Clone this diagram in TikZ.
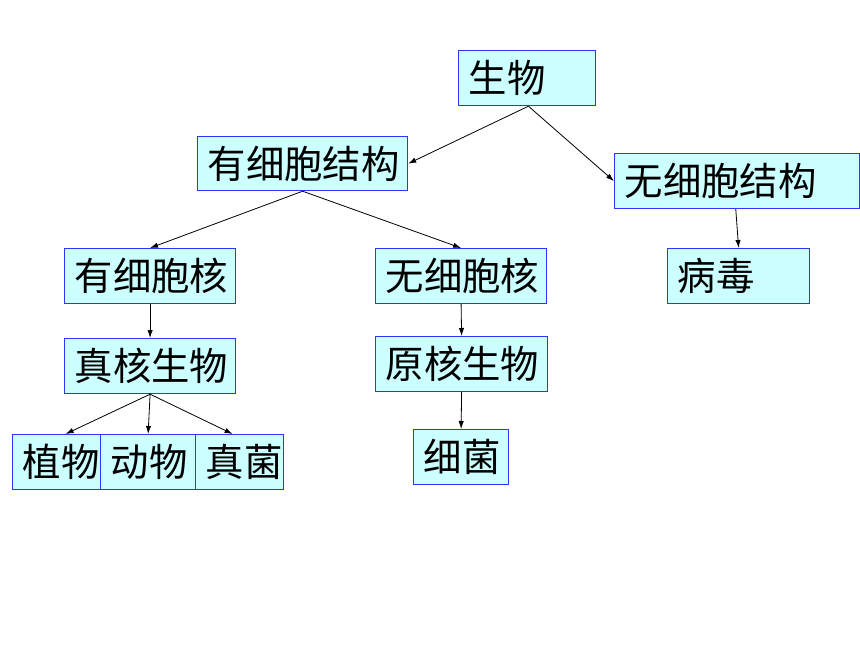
\documentclass[tikz,border=0pt]{standalone}
\usepackage{fontspec}
\setmainfont{Noto Sans CJK SC}
\usetikzlibrary{arrows.meta}
\definecolor{boxfill}{HTML}{CCFFFF}
\definecolor{boxline}{HTML}{3333FF}
\newcommand\mkbox[6]{%
  \pgfmathsetmacro\tw{#4*0.75-15}%
  \pgfmathsetmacro\hh{#5*0.75}%
  \node[box, text width=\tw pt, minimum height=\hh pt, anchor=north west] (#1) at (#2,#3) {#6};}
\begin{document}
\begin{tikzpicture}[x=0.75pt,y=-0.75pt,
  box/.style={draw=boxline, fill=boxfill, line width=0.9pt, inner xsep=7.5pt, inner ysep=0pt,
    align=left, font=\fontsize{28.8}{30}\selectfont},
  arr/.style={draw=black, line width=0.6pt, -{Latex[length=6pt,width=4pt]}}]
\useasboundingbox (0,0) rectangle (860,645);
\mkbox{sw}{458}{50}{137}{55}{生物}
\mkbox{yxb}{197}{136}{210}{54}{有细胞结构}
\mkbox{wxb}{614}{153}{245}{55}{无细胞结构}
\mkbox{yxh}{64}{248}{171}{55}{有细胞核}
\mkbox{wxh}{375}{248}{171}{55}{无细胞核}
\mkbox{bd}{667}{248}{142}{55}{病毒}
\mkbox{zh}{64}{338}{171}{55}{真核生物}
\mkbox{yh}{375}{336}{172}{55}{原核生物}
\mkbox{xj}{413}{429}{95}{55}{细菌}
\mkbox{zw}{12}{434}{88}{55}{植物}
\mkbox{dw}{100}{434}{95}{55}{动物}
\mkbox{zj}{195}{434}{88}{55}{真菌}
\draw[arr] ([xshift=1pt]sw.south) -- (yxb.east);
\draw[arr] ([xshift=1pt]sw.south) -- (wxb.west);
\draw[arr] (yxb.south) -- (yxh.north);
\draw[arr] (yxb.south) -- (wxh.north);
\draw[arr] ([xshift=-1pt]wxb.south) -- (bd.north);
\draw[arr] (yxh.south) -- (zh.north);
\draw[arr] (wxh.south) -- (yh.north);
\draw[arr] (yh.south) -- (xj.north);
\draw[arr] (zh.south) -- ([xshift=6.75pt]zw.north);
\draw[arr] (zh.south) -- (dw.north);
\draw[arr] (zh.south) -- ([xshift=-5.25pt]zj.north);
\end{tikzpicture}
\end{document}
